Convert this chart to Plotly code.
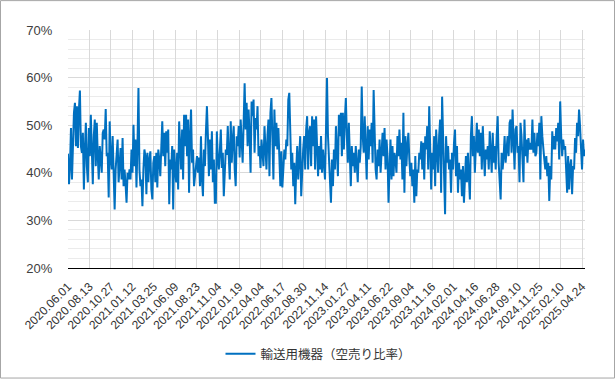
import plotly.graph_objects as go

series_name = "輸送用機器（空売り比率）"

tick_labels = ["2020.06.01", "2020.08.13", "2020.10.27", "2021.01.12", "2021.03.25",
               "2021.06.09", "2021.08.23", "2021.11.04", "2022.01.19", "2022.04.04",
               "2022.06.17", "2022.08.30", "2022.11.14", "2023.01.27", "2023.04.11",
               "2023.06.22", "2023.09.04", "2023.11.16", "2024.02.01", "2024.04.16",
               "2024.06.28", "2024.09.10", "2024.11.25", "2025.02.10", "2025.04.24"]

seg1 = [44.0, 37.6, 41.4, 49.4, 38.6, 47.7, 52.6, 54.7, 45.6, 54.0, 45.2, 53.3, 57.3, 45.6, 44.2, 48.4,
        36.5, 44.9, 50.5, 41.4, 38.0, 49.4, 43.5, 52.2, 40.7, 37.6, 47.7, 51.2, 41.4, 50.5, 43.5, 38.6,
        45.6, 41.4, 40.0, 48.4, 49.1, 47.0, 53.4, 43.5, 44.2, 34.8, 50.8, 42.8, 40.7, 47.7, 36.5, 32.3,
        40.7, 44.2, 47.0, 38.0, 40.7, 45.2, 38.6, 47.3, 37.2, 40.7, 37.6, 33.7, 40.0, 38.6]
seg2 = [40.7, 38.6, 44.9, 40.0, 50.1, 41.4, 47.0, 36.9, 45.6, 57.8, 40.7, 37.2, 38.6, 33.0, 40.7, 44.9,
        43.5, 35.5, 44.2, 38.0, 42.8, 44.5, 36.5, 34.4, 42.1, 43.5, 38.0, 44.2, 36.9, 44.9, 42.8, 39.3,
        45.2, 50.8, 43.5, 48.4, 41.4, 48.7, 44.2, 49.1, 33.4, 42.8, 40.7, 45.6, 32.3, 44.9, 40.7, 38.0,
        44.2, 36.5, 50.8, 44.9, 40.7, 49.1, 38.6, 52.2, 45.6, 52.2, 43.5, 51.2, 35.8, 47.7, 53.3, 42.1,
        44.9, 37.2, 40.0]
seg3 = [42.1, 43.5, 40.0, 43.2, 37.2, 47.7, 38.6, 35.1, 44.9, 41.4, 48.7, 54.0, 47.7, 39.3, 47.0, 40.7,
        48.7, 38.0, 42.8, 33.7, 33.7, 48.7, 42.8, 40.7, 44.5, 49.1, 41.0, 44.2, 35.1, 40.7, 44.9, 43.8,
        49.8, 43.5, 38.6, 50.8, 42.1, 47.0, 49.8, 40.7, 37.2, 47.7, 45.6, 49.8, 43.2, 51.2, 47.0, 42.1,
        50.5, 58.8, 49.1, 54.7, 45.6, 53.3, 47.7, 40.0, 55.0, 51.9, 55.4, 44.2, 51.5, 49.1, 54.0, 43.5,
        45.6, 41.0, 47.0]
seg4 = [44.9, 41.4, 49.8, 45.9, 40.7, 47.7, 51.2, 39.3, 52.6, 55.7, 43.5, 38.6, 53.3, 45.6, 50.5, 44.9,
        49.4, 43.8, 37.2, 44.5, 36.9, 40.7, 44.9, 42.8, 47.0, 45.6, 55.4, 56.8, 47.7, 40.7, 44.2, 37.2,
        42.1, 33.4, 40.7, 45.6, 38.6, 42.1, 47.7, 35.1, 41.4, 44.9, 47.7, 40.7, 49.1, 51.9, 40.7, 48.4,
        49.8, 41.4, 51.9, 45.6, 51.2, 40.7, 51.9, 44.2, 39.3, 45.6, 40.7, 47.7, 40.0, 44.9, 42.1, 38.6,
        49.1, 59.9]
seg5 = [47.7, 43.5, 39.3, 33.7, 42.8, 37.2, 44.9, 40.7, 49.8, 44.2, 39.3, 52.2, 47.7, 52.6, 43.5, 52.6,
        44.9, 51.2, 55.7, 47.7, 42.1, 50.5, 40.7, 37.2, 45.6, 41.4, 44.2, 40.0, 45.6, 42.8, 38.0, 44.9,
        42.1, 45.6, 58.1, 47.7, 44.2, 51.9, 47.0, 38.6, 49.8, 42.8, 49.1, 45.6, 50.5, 42.1, 57.4, 47.7,
        40.7, 38.6, 44.9, 41.4, 47.0, 40.0, 45.6, 48.4, 43.5, 49.4, 40.7, 47.0, 43.5, 33.7, 40.7, 47.0,
        38.6]
seg6 = [45.6, 39.3, 44.2, 42.8, 40.0, 47.7, 43.5, 49.1, 42.8, 46.3, 38.6, 52.6, 35.8, 47.7, 41.4, 45.6,
        48.4, 42.8, 39.3, 42.1, 37.2, 40.7, 33.7, 43.5, 35.1, 40.7, 40.0, 44.2, 42.8, 46.6, 40.7, 46.3,
        38.6, 47.7, 44.9, 49.8, 40.7, 54.0, 45.6, 36.5, 44.2, 40.7, 47.7, 37.2, 49.1, 43.5, 40.0, 47.7,
        51.2, 35.8, 56.0, 47.7, 38.6, 31.3, 47.7, 42.1, 45.6, 40.7, 42.8, 35.8, 44.2, 40.7, 46.3, 49.1,
        39.3]
seg7 = [45.6, 35.8, 42.1, 38.6, 40.7, 35.1, 41.4, 33.7, 40.7, 43.5, 38.0, 44.2, 39.3, 34.4, 47.7, 51.9,
        43.5, 47.7, 40.0, 45.6, 50.5, 44.2, 49.1, 43.5, 48.4, 40.7, 49.8, 44.2, 39.3, 44.9, 42.8, 45.6,
        40.7, 48.7, 43.5, 40.0, 48.4, 42.1, 45.6, 40.7, 47.7, 51.9, 42.1, 36.5, 34.4, 44.2, 40.7, 43.5,
        47.7, 42.1, 45.6, 47.7, 43.5, 50.5, 51.2, 44.2, 53.3, 47.7, 40.7, 49.1, 49.8, 44.2, 45.6, 38.0,
        50.5]
seg8 = [47.7, 41.4, 38.0, 51.2, 43.5, 47.0, 42.1, 47.3, 44.9, 46.3, 44.9, 51.2, 44.2, 48.4, 43.5, 44.2,
        48.4, 45.6, 50.5, 38.6, 51.9, 47.7, 44.2, 42.8, 40.7, 43.5, 39.3, 42.1, 34.1, 41.4, 38.6, 48.7,
        44.9, 47.7, 44.9, 49.4, 46.6, 50.5, 42.8, 55.0, 47.7, 43.5, 47.0, 44.9, 45.6, 40.7, 35.8, 43.5,
        36.5, 41.4, 42.8, 35.5, 41.4, 40.7, 47.3, 44.2, 50.5, 47.7, 53.3, 49.8, 45.6, 40.7, 47.0, 43.5,
        44.9]

values = seg1 + seg2 + seg3 + seg4 + seg5 + seg6 + seg7 + seg8
n = len(values)
x = list(range(n))

# plot area geometry (px) used only to place tick positions proportionally
plot_w = 517
last_tick_px = 514
step = (n - 1) * (last_tick_px / plot_w) / (len(tick_labels) - 1)
tickvals = [i * step for i in range(len(tick_labels))]

fig = go.Figure()
fig.add_trace(go.Scatter(
    x=x, y=values, mode="lines", name=series_name,
    line=dict(color="#0070C0", width=2),
))

L, R, T, B = 68, 30, 30, 111
W, H = 615, 380
pw, ph = W - L - R, H - T - B

fig.update_layout(
    width=W, height=H,
    margin=dict(l=L, r=R, t=T, b=B, pad=0),
    paper_bgcolor="white", plot_bgcolor="white",
    font=dict(family="Liberation Sans, Arial, Noto Sans CJK JP", size=12, color="#404040"),
    showlegend=True,
    legend=dict(orientation="h", x=0.5 - 8 / pw, xanchor="center", y=(ph - (354 - T)) / ph, yanchor="middle",
                font=dict(size=12.5, color="#333333", family="Liberation Sans, Noto Sans CJK JP"),
                bgcolor="rgba(0,0,0,0)"),
    xaxis=dict(
        range=[0, n - 1], tickmode="array", tickvals=tickvals, ticktext=tick_labels,
        tickangle=-45, tickfont=dict(size=12, color="#333333"),
        showgrid=True, gridcolor="#d9d9d9", gridwidth=1,
        showline=True, linecolor="#000000", linewidth=1,
        ticks="outside", ticklen=6, tickcolor="rgba(0,0,0,0)",
        zeroline=False, automargin=False, fixedrange=True,
    ),
    yaxis=dict(
        range=[20, 70], tick0=20, dtick=10, ticksuffix="%",
        tickfont=dict(size=13, color="#404040"),
        showgrid=True, gridcolor="#d9d9d9", gridwidth=1,
        minor=dict(dtick=2, tick0=20, showgrid=True, gridcolor="#ebebeb", gridwidth=1),
        showline=False, zeroline=False,
        ticks="outside", ticklen=12, tickcolor="rgba(0,0,0,0)",
        automargin=False, fixedrange=True,
    ),
    shapes=[dict(type="rect", xref="paper", yref="paper",
                 x0=(-L + 0.5) / pw, x1=(pw + R - 0.5) / pw,
                 y0=(-B + 0.5) / ph, y1=(ph + T - 0.5) / ph,
                 line=dict(color="#a6a6a6", width=1), layer="below")],
)

fig.write_html("out.html")
